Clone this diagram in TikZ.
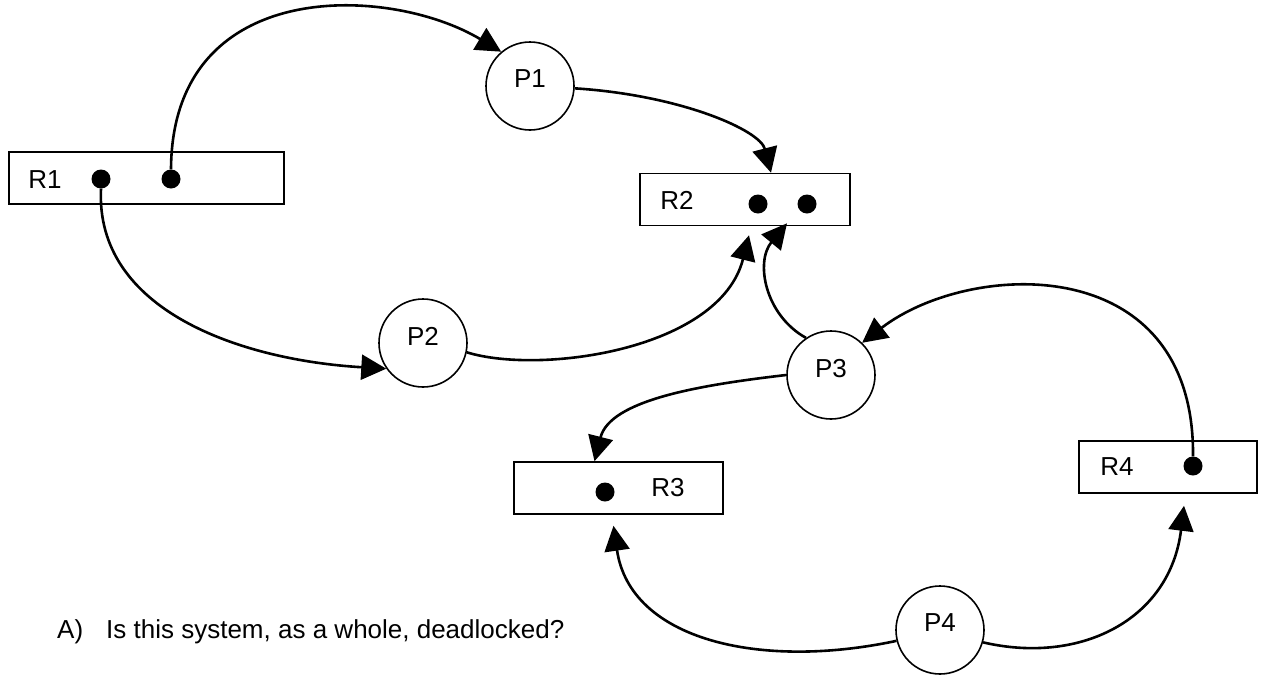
\documentclass[tikz,border=0pt]{standalone}
\usepackage{fontspec}
\setmainfont{Liberation Sans}
\usetikzlibrary{arrows.meta}
\begin{document}
\begin{tikzpicture}[x=1pt,y=-1pt,
  txt/.style={font=\fontsize{26pt}{31pt}\selectfont, inner sep=0pt},
  res/.style={draw, line width=1.6pt, rectangle, inner sep=0pt, minimum height=52pt},
  proc/.style={draw, line width=1.6pt, circle, minimum size=88pt, inner sep=0pt,
               font=\fontsize{26pt}{31pt}\selectfont, text depth=14pt},
  dot/.style={circle, fill=black, minimum size=19pt, inner sep=0pt},
  conn/.style={line width=2.6pt, -{Triangle[length=25pt,width=25pt]}}
]
\useasboundingbox (0,0) rectangle (1261,675);

% resources
\node[res, minimum width=275pt] (R1) at (146.5,178) {};
\node[res, minimum width=210pt] (R2) at (745,199.5) {};
\node[res, minimum width=209pt] (R3) at (618.5,488) {};
\node[res, minimum width=178pt] (R4) at (1168,467) {};

\node[txt] (R1t) at (45,180) {R1};
\node[txt] (R2t) at (677,200) {R2};
\node[txt] (R3t) at (668,488) {R3};
\node[txt] (R4t) at (1117,467) {R4};

\node[dot] (r1a) at (101,179) {};
\node[dot] (r1b) at (171,179) {};
\node[dot] (r2a) at (758,204) {};
\node[dot] (r2b) at (807,204) {};
\node[dot] (r3a) at (605,492) {};
\node[dot] (r4a) at (1193,466) {};

% processes
\node[proc] (P1) at (530,86) {P1};
\node[proc] (P2) at (423,343) {P2};
\node[proc] (P3) at (831,375) {P3};
\node[proc] (P4) at (940,630) {P4};

% connectors
\draw[conn] (r1b.north) .. controls (172,-25) and (390,-15) .. (P1.130);
\draw[conn] (r1a.south) .. controls (95,310) and (240,360) .. (P2.215);
\draw[conn] (P1.357) .. controls (680,95) and (760,130) .. ([xshift=26pt]R2.north);
\draw[conn] (P2.-12) .. controls (540,375) and (720,350) .. ([shift={(4,9)}]R2.south);
\draw[conn] (P3.124) .. controls (765,315) and (755,262) .. ([shift={(42,-3)}]R2.south);
\draw[conn] (r4a.north) .. controls (1195,250) and (970,260) .. (P3.46);
\draw[conn] (P3.180) .. controls (700,385) and (610,400) .. ([xshift=-24pt]R3.north);
\draw[conn] (P4.194) .. controls (760,670) and (630,640) .. ([shift={(-5,11)}]R3.south);
\draw[conn] (P4.-16) .. controls (1080,665) and (1170,620) .. ([shift={(16,12)}]R4.south);

% question
\node[txt, anchor=base west] (qa) at (57,638) {A)};
\node[txt, anchor=base west] (qb) at (106,638) {Is this system, as a whole, deadlocked?};
\end{tikzpicture}
\end{document}
